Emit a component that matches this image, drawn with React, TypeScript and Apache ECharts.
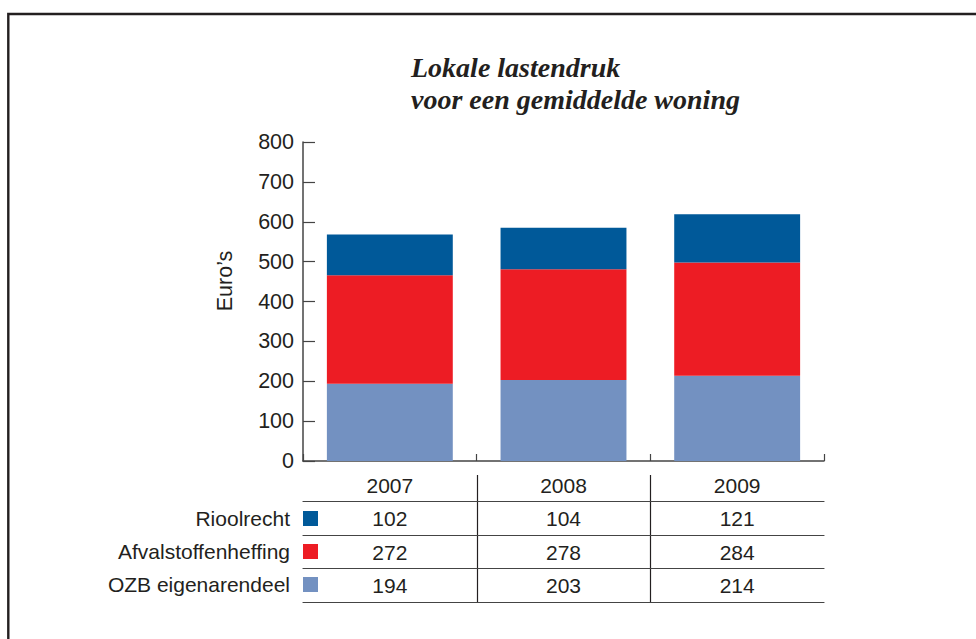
import React, { useEffect, useRef } from "react";
import * as echarts from "echarts";

const years = ["2007", "2008", "2009"];
const rioolrecht = [102, 104, 121];
const afvalstoffenheffing = [272, 278, 284];
const ozbEigenarendeel = [194, 203, 214];
const seriesNames = ["Rioolrecht", "Afvalstoffenheffing", "OZB eigenarendeel"];
const yTicks = { min: 0, max: 800, interval: 100 };

const INK = "#231f20";
const SANS = "'Liberation Sans', Arial, Helvetica, sans-serif";
const SERIF = "'Liberation Serif', 'Times New Roman', serif";
const FS = 21;

export default function App() {
  const ref = useRef<HTMLDivElement>(null);
  useEffect(() => {
    if (!ref.current) return;
    const chart = echarts.init(ref.current, null, { renderer: "svg" });

    const rowAxis = (offset: number, arr: number[] | null) => ({
      type: "category",
      data: years,
      gridIndex: 0,
      position: "bottom",
      offset,
      axisLine: { show: true, lineStyle: { color: "#444", width: 1.2 } },
      axisTick: { show: false },
      splitLine: { show: false },
      axisLabel: {
        show: !!arr,
        margin: 7,
        fontSize: FS,
        fontFamily: SANS,
        color: INK,
        formatter: (_v: string, i: number) => (arr ? String(arr[i]) : ""),
      },
    });

    chart.setOption({
      animation: false,
      title: {
        text: "Lokale lastendruk\nvoor een gemiddelde woning",
        left: 411,
        top: 51,
        padding: 0,
        textStyle: {
          fontFamily: SERIF,
          fontStyle: "italic",
          fontWeight: "bold",
          fontSize: 28,
          lineHeight: 32,
          color: INK,
        },
      },
      legend: {
        data: seriesNames,
        orient: "vertical",
        align: "right",
        right: 658,
        top: 508,
        padding: 0,
        itemGap: 12,
        itemWidth: 15,
        itemHeight: 15,
        icon: "rect",
        selectedMode: false,
        textStyle: { fontSize: FS, fontFamily: SANS, color: INK, padding: [0, 8, 0, 0] },
      },
      grid: { left: 303, top: 142, width: 521, height: 319, containLabel: false },
      xAxis: [
        {
          type: "category",
          data: years,
          axisLine: { show: true, lineStyle: { color: "#444", width: 1.5 } },
          axisTick: { show: true, inside: true, length: 7, lineStyle: { color: "#444", width: 1.2 } },
          axisLabel: { margin: 14, fontSize: FS, fontFamily: SANS, color: INK },
          splitLine: { show: false },
        },
        rowAxis(40, rioolrecht),
        rowAxis(74, afvalstoffenheffing),
        rowAxis(107, ozbEigenarendeel),
        rowAxis(141, null),
      ],
      yAxis: {
        type: "value",
        min: yTicks.min,
        max: yTicks.max,
        interval: yTicks.interval,
        axisLine: { show: true, lineStyle: { color: "#444", width: 1.5 } },
        axisTick: { show: true, inside: true, length: 12, lineStyle: { color: "#444", width: 1.2 } },
        axisLabel: { margin: 9, fontSize: 21.5, fontFamily: SANS, color: INK },
        splitLine: { show: false },
      },
      series: [
        { name: seriesNames[2], type: "bar", stack: "t", data: ozbEigenarendeel, barWidth: "72.5%", itemStyle: { color: "#7391c1" } },
        { name: seriesNames[1], type: "bar", stack: "t", data: afvalstoffenheffing, barWidth: "72.5%", itemStyle: { color: "#ed1c24" } },
        { name: seriesNames[0], type: "bar", stack: "t", data: rioolrecht, barWidth: "72.5%", itemStyle: { color: "#005999" } },
      ],
      graphic: [
        {
          id: "frame",
          type: "rect",
          silent: true,
          shape: { x: 8.3, y: 14, width: 1200, height: 900 },
          style: { fill: "none", stroke: INK, lineWidth: 2.4 },
        },
        {
          id: "yname",
          type: "text",
          x: 225,
          y: 281,
          rotation: Math.PI / 2,
          style: {
            text: "Euro\u2019s",
            fontSize: 21.5,
            fontFamily: SANS,
            fill: INK,
            align: "center",
            verticalAlign: "middle",
          },
        },
      ],
    });

    // table column dividers at category boundaries
    const centers = years.map((y) => chart.convertToPixel({ xAxisIndex: 0 }, y) as number);
    const dividers = centers.slice(1).map((c, i) => {
      const x = Math.round((c + centers[i]) / 2) + 0.5;
      return {
        id: "div" + i,
        type: "line",
        silent: true,
        shape: { x1: x, y1: 475, x2: x, y2: 602 },
        style: { stroke: INK, lineWidth: 1.2 },
      };
    });
    chart.setOption({ graphic: dividers });

    return () => chart.dispose();
  }, []);
  return <div ref={ref} style={{ position: "absolute", left: 0, top: 0, width: 976, height: 639 }} />;
}
